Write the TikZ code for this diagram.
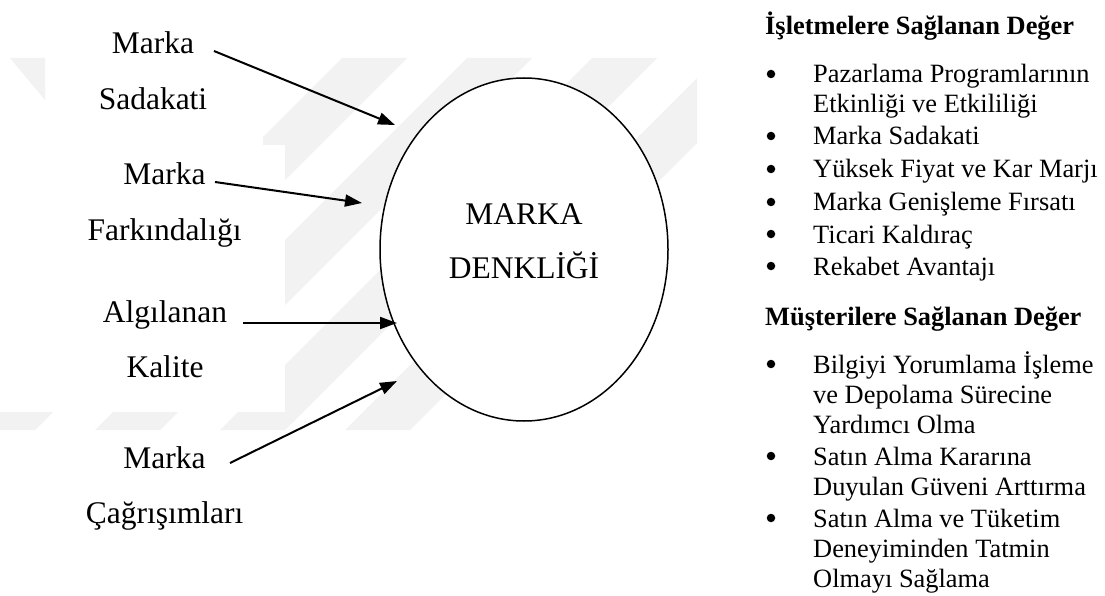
\documentclass[tikz,border=0pt]{standalone}
\usepackage{fontspec}
\setmainfont{Liberation Serif}
\usetikzlibrary{arrows.meta,shapes.geometric,calc}
\definecolor{markgray}{gray}{0.95}
\begin{document}
\begin{tikzpicture}[x=1pt,y=-1pt,
  lbl/.style={font=\fontsize{31.5}{36}\selectfont, inner sep=0pt, anchor=base},
  item/.style={font=\fontsize{26.4}{30}\selectfont, inner sep=0pt, anchor=base west},
  head/.style={font=\fontsize{26.4}{30}\selectfont\bfseries, inner sep=0pt, anchor=base west},
  feed/.style={line width=2pt, -{Triangle[length=17pt,width=12pt]}},
  bul/.style={circle, fill=black, inner sep=0pt, minimum size=8.5pt}
]
\useasboundingbox[fill=white] (0,0) rectangle (1105,596);

% faint background stripes
\begin{scope}
  \clip (0,58) rectangle (697,430);
  \foreach \a in {-30,95,220,345} {
    \fill[markgray] (\a,430) -- ++(65,0) -- ++(372,-372) -- ++(-65,0) -- cycle;
  }
\end{scope}
\fill[white] (0,58) rectangle (263,412);
\fill[white] (263,145) rectangle (285,412);
\fill[markgray] (10,58) -- (45,58) -- (45,100) -- cycle;

% central ellipse
\node[ellipse, draw, line width=1.5pt, fill=white, minimum width=288pt,
      minimum height=343pt, inner sep=0pt] (eq) at (524,249.5) {};
\node[lbl] (eqa) at ($(eq.center)+(0,-24.5)$) {MARKA};
\node[lbl] (eqb) at ($(eq.center)+(0,28.5)$) {DENKLİĞİ};

% dimensions on the left
\node[lbl] (ms1) at (153,54) {Marka};
\node[lbl] (ms2) at (153,110) {Sadakati};
\node[lbl] (mf1) at (164.5,185) {Marka};
\node[lbl] (mf2) at (164.5,240) {Farkındalığı};
\node[lbl] (ak1) at (165,322) {Algılanan};
\node[lbl] (ak2) at (165,377) {Kalite};
\node[lbl] (mc1) at (164.5,468) {Marka};
\node[lbl] (mc2) at (164.5,523) {Çağrışımları};

% arrow ends
\coordinate (s1) at (214,51);  \coordinate (t1) at (395,125);
\coordinate (s2) at (215,182); \coordinate (t2) at (362,203);
\coordinate (s3) at (243,323); \coordinate (t3) at (397,323);
\coordinate (s4) at (230,463); \coordinate (t4) at (397,381);
\draw[feed] (s1) -- (t1);
\draw[feed] (s2) -- (t2);
\draw[feed] (s3) -- (t3);
\draw[feed] (s4) -- (t4);

% value lists on the right
\node[head] (h1) at (765,35) {İşletmelere Sağlanan Değer};
\node[item] (i1a) at (813,83)  {Pazarlama Programlarının};
\node[item] (i1b) at (813,113) {Etkinliği ve Etkililiği};
\node[item] (i2)  at (813,145) {Marka Sadakati};
\node[item] (i3)  at (813,178) {Yüksek Fiyat ve Kar Marjı};
\node[item] (i4)  at (813,211) {Marka Genişleme Fırsatı};
\node[item] (i5)  at (813,243) {Ticari Kaldıraç};
\node[item] (i6)  at (813,275) {Rekabet Avantajı};

\node[head] (h2) at (765,325) {Müşterilere Sağlanan Değer};
\node[item] (j1a) at (813,373) {Bilgiyi Yorumlama İşleme};
\node[item] (j1b) at (813,403) {ve Depolama Sürecine};
\node[item] (j1c) at (813,433) {Yardımcı Olma};
\node[item] (j2a) at (813,465) {Satın Alma Kararına};
\node[item] (j2b) at (813,495) {Duyulan Güveni Arttırma};
\node[item] (j3a) at (813,527) {Satın Alma ve Tüketim};
\node[item] (j3b) at (813,557) {Deneyiminden Tatmin};
\node[item] (j3c) at (813,587) {Olmayı Sağlama};

\foreach \n in {i1a,i2,i3,i4,i5,i6,j1a,j2a,j3a}
  \node[bul] at ($(\n.base west)+(-42,-9)$) {};
\end{tikzpicture}
\end{document}
